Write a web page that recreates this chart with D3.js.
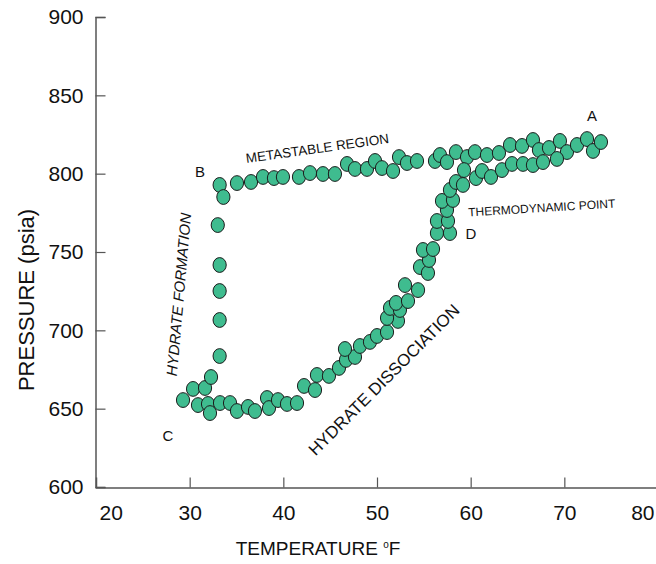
<!DOCTYPE html>
<html><head><meta charset="utf-8">
<script src="https://cdn.jsdelivr.net/npm/d3@7"></script>
<style>
html,body{margin:0;padding:0;background:#fff;}
svg{display:block;}
</style></head>
<body>
<svg id="chart" width="656" height="564"></svg>
<script>
// ---- data (temperature °F, pressure psia) ----
const xTicks = [20, 30, 40, 50, 60, 70, 80];
const yTicks = [600, 650, 700, 750, 800, 850, 900];

const formationTemp = [33.2, 33.6, 33.0, 33.2, 33.2, 33.2, 33.2];
const formationPres = [792.8, 785.1, 767.2, 741.7, 725.1, 706.6, 683.6];

const metastableTemp = [35.05, 36.55, 37.83, 39.00, 39.96, 41.67, 42.85, 44.23, 45.51, 46.80, 47.65, 48.93, 49.79, 50.53, 51.71, 52.35, 53.20, 54.27, 56.19, 56.72, 57.47, 58.43, 59.61, 60.46, 61.74, 63.02, 64.20, 65.48, 66.65, 67.29, 68.36, 69.53, 70.28, 71.35, 72.42, 73.06, 73.91];
const metastablePres = [794.0, 794.7, 797.9, 797.2, 797.9, 797.9, 800.4, 799.8, 799.8, 806.2, 803.0, 803.0, 808.1, 803.6, 801.7, 810.6, 806.8, 808.1, 808.1, 811.9, 807.4, 813.8, 810.6, 813.8, 811.9, 813.2, 818.3, 817.7, 821.5, 815.1, 816.4, 820.9, 813.8, 818.3, 822.1, 814.5, 820.2];

const coolingTemp = [29.29, 30.36, 31.64, 32.28, 30.89, 31.96, 32.17, 33.24, 34.31, 35.05, 36.23, 36.97, 38.26, 38.47, 39.43, 40.39, 41.46, 42.21];
const coolingPres = [655.5, 662.6, 663.2, 670.2, 652.3, 653.0, 647.2, 653.6, 653.6, 648.5, 651.1, 648.5, 656.8, 650.4, 655.5, 653.0, 653.6, 664.5];

const dissocTemp = [43.38, 43.59, 44.87, 45.94, 46.69, 47.65, 46.58, 48.18, 49.25, 50.00, 51.07, 52.24, 51.07, 51.39, 52.45, 52.03, 53.31, 52.99, 54.38, 54.59, 55.44, 55.55, 54.91, 55.98, 56.40, 57.79, 56.40, 57.58, 57.47, 56.94, 58.11, 57.79, 58.43, 59.18];
const dissocPres = [661.9, 671.5, 670.9, 676.0, 681.1, 683.0, 688.1, 690.0, 692.6, 696.4, 698.9, 706.0, 707.9, 714.3, 713.0, 717.5, 718.7, 728.9, 725.7, 740.4, 736.6, 744.9, 751.3, 751.9, 762.1, 762.1, 769.8, 769.8, 776.8, 782.6, 783.2, 789.6, 794.7, 792.8];

const thermoTemp = [59.29, 60.57, 61.21, 62.17, 63.34, 64.41, 65.59, 66.65, 67.72, 69.21];
const thermoPres = [802.3, 797.2, 801.7, 797.9, 802.3, 806.2, 806.2, 805.5, 807.4, 809.4];

// ---- chart ----
const svg = d3.select("#chart");
const x = d3.scaleLinear().domain([20, 80]).range([96, 658]);
const y = d3.scaleLinear().domain([600, 900]).range([487, 17]);

const axisColor = "#555";
const tickFont = "'Liberation Sans Narrow','Arial Narrow','Liberation Sans',sans-serif";

// Left axis
const gy = svg.append("g").attr("transform", "translate(95.5,0)")
  .call(d3.axisLeft(y).tickValues(yTicks).tickSize(-10).tickPadding(12).tickFormat(d3.format("d")));
gy.select(".domain").attr("stroke", axisColor).attr("stroke-width", 1.5);
gy.selectAll(".tick line").attr("stroke", axisColor).attr("stroke-width", 1.2);
gy.selectAll(".tick text").attr("font-family", tickFont).attr("font-size", 21).attr("fill", "#111");

// Bottom axis
const gx = svg.append("g").attr("transform", "translate(0,487.5)")
  .call(d3.axisBottom(x).tickValues(xTicks).tickSize(-10).tickPadding(18).tickFormat(d3.format("d")));
gx.select(".domain").attr("stroke", axisColor).attr("stroke-width", 1.5);
gx.selectAll(".tick line").attr("stroke", axisColor).attr("stroke-width", 1.2)
  .filter(d => d === 20).remove();
gx.selectAll(".tick text").attr("font-family", tickFont).attr("font-size", 21).attr("fill", "#111")
  .attr("text-anchor", d => d === 20 ? "start" : (d === 80 ? "end" : "middle"))
  .attr("dx", d => d === 20 ? 3 : (d === 80 ? -4 : 0));

// Axis titles
svg.append("text")
  .attr("transform", "translate(34,300) rotate(-90)")
  .attr("text-anchor", "middle")
  .attr("font-family", "'Liberation Sans',Arial,sans-serif")
  .attr("font-size", 22).attr("fill", "#111")
  .text("PRESSURE (psia)");

const xt = svg.append("text")
  .attr("x", 318).attr("y", 555)
  .attr("text-anchor", "middle")
  .attr("font-family", tickFont)
  .attr("font-size", 19).attr("fill", "#111");
xt.append("tspan").text("TEMPERATURE ");
xt.append("tspan").attr("font-size", 10).attr("dy", -7).text("o");
xt.append("tspan").attr("dy", 7).text("F");

// Points
const series = [
  [formationTemp, formationPres],
  [coolingTemp, coolingPres],
  [dissocTemp, dissocPres],
  [metastableTemp, metastablePres],
  [thermoTemp, thermoPres]
];
const pts = [];
series.forEach(([t, p]) => t.forEach((v, i) => pts.push({t: v, p: p[i]})));

svg.append("g").selectAll("ellipse").data(pts).join("ellipse")
  .attr("cx", d => x(d.t)).attr("cy", d => y(d.p))
  .attr("rx", 6.6).attr("ry", 7.4)
  .attr("fill", "#3fbc8f").attr("stroke", "#1b1b1b").attr("stroke-width", 1);

// Annotations
const ann = svg.append("g").attr("font-family", "'Liberation Sans',Arial,sans-serif").attr("fill", "#111");
ann.append("text").attr("x", 592).attr("y", 121).attr("text-anchor", "middle").attr("font-size", 15).text("A");
ann.append("text").attr("x", 200).attr("y", 177).attr("text-anchor", "middle").attr("font-size", 15).text("B");
ann.append("text").attr("x", 168).attr("y", 441).attr("text-anchor", "middle").attr("font-size", 15).text("C");
ann.append("text").attr("x", 471).attr("y", 239).attr("text-anchor", "middle").attr("font-size", 15).text("D");

ann.append("text").attr("transform", "translate(318,153) rotate(-8)")
  .attr("text-anchor", "middle").attr("font-size", 13.5).text("METASTABLE REGION");
ann.append("text").attr("transform", "translate(542,212) rotate(-3.5)")
  .attr("text-anchor", "middle").attr("font-size", 12).text("THERMODYNAMIC POINT");
ann.append("text").attr("transform", "translate(184,295) rotate(-85)")
  .attr("text-anchor", "middle").attr("font-size", 15).attr("font-style", "italic").text("HYDRATE FORMATION");
ann.append("text").attr("transform", "translate(388,384) rotate(-45)")
  .attr("text-anchor", "middle").attr("font-size", 17).text("HYDRATE DISSOCIATION");
</script>
</body></html>
